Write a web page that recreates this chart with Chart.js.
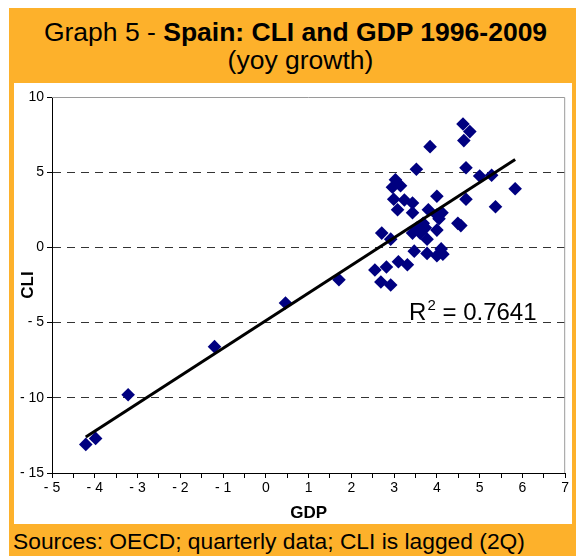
<!DOCTYPE html>
<html>
<head>
<meta charset="utf-8">
<script src="https://cdn.jsdelivr.net/npm/chart.js@4.4.1/dist/chart.umd.min.js"></script>
<style>
  html, body { margin: 0; padding: 0; background: #fff; }
  #frame { position: absolute; left: 0; top: 0; width: 576px; height: 556px; overflow: hidden; background: #fff; font-family: "Liberation Sans", Arial, sans-serif; }
  #orange { position: absolute; left: 9px; top: 8px; width: 567px; height: 548px; background: #FDB12B; }
  #title1 { position: absolute; left: 12px; width: 567px; top: 17px; text-align: center; font-size: 26.5px; line-height: 30px; color: #000; white-space: nowrap; }
  #title2 { position: absolute; left: 17px; width: 567px; top: 45px; text-align: center; font-size: 26.5px; line-height: 30px; color: #000; white-space: nowrap; }
  #white { position: absolute; left: 14px; top: 83px; width: 558px; height: 441px; background: #fff; }
  #footer { position: absolute; left: 13px; top: 527px; font-size: 22.8px; line-height: 28px; color: #000; white-space: nowrap; }
  #cwrap { position: absolute; left: 14px; top: 83px; width: 558px; height: 441px; }
</style>
</head>
<body>
<div id="frame">
  <div id="orange"></div>
  <div id="title1">Graph 5 - <b>Spain: CLI and GDP 1996-2009</b></div>
  <div id="title2">(yoy growth)</div>
  <div id="white"></div>
  <div id="cwrap"><canvas id="c" width="558" height="441"></canvas></div>
  <div id="footer">Sources: OECD; quarterly data; CLI is lagged (2Q)</div>
</div>
<script>
// GDP growth (x) and lagged CLI growth (y)
const gdp = [-4.21, -3.98, -3.22, -1.20, 0.46, 1.71, 2.55, 2.82, 3.10, 3.31,
             2.69, 2.92, 2.71, 2.92, 3.47, 3.77, 4.00, 4.10, 4.14, 3.43,
             3.61, 3.77, 4.00, 3.54, 3.73, 3.68, 4.49, 4.56, 4.05, 4.00,
             4.12, 3.80, 3.43, 3.08, 3.43, 3.24, 2.99, 4.00, 4.68, 5.37,
             5.83, 5.00, 5.28, 4.68, 3.52, 3.84, 4.63, 4.77, 4.61, 3.03,
             3.15, 2.96];
const cli = [-13.1, -12.7, -9.8, -6.6, -3.7, -2.15, -1.5, -1.3, -0.95, -1.15,
             -2.3, -2.5, 0.95, 0.55, -0.25, -0.4, -0.55, -0.1, -0.45, 0.95,
             0.95, 0.55, 1.15, 1.3, 1.3, 1.6, 1.6, 1.45, 1.9, 2.15,
             2.3, 2.5, 2.3, 2.5, 2.95, 3.15, 3.2, 3.4, 3.2, 2.7,
             3.9, 4.75, 4.8, 5.3, 5.2, 6.7, 7.1, 7.7, 8.2, 4.5,
             4.1, 4.0];
// Linear trend endpoints
const trendX = [-4.21, 5.83];
const trendY = [-12.6, 5.85];
const rSquaredLabel = "0.7641";
const xTicks = [-5, -4, -3, -2, -1, 0, 1, 2, 3, 4, 5, 6, 7];
const yTicks = [-15, -10, -5, 0, 5, 10];

const points = gdp.map((g, i) => ({x: g, y: cli[i]}));
const trend = trendX.map((t, i) => ({x: t, y: trendY[i]}));

const FONT = "'Liberation Sans', Arial, sans-serif";
const fmt = v => v < 0 ? '- ' + Math.abs(v) : String(v);

const extras = {
  id: 'extras',
  beforeDatasetsDraw(chart) {
    const {ctx, chartArea: a} = chart;
    ctx.save();
    ctx.strokeStyle = '#9a9a9a';
    ctx.lineWidth = 1;
    ctx.beginPath();
    ctx.moveTo(a.left, a.top + 0.5);
    ctx.lineTo(a.right - 0.5, a.top + 0.5);
    ctx.lineTo(a.right - 0.5, a.bottom);
    ctx.stroke();
    ctx.restore();
  },
  afterDatasetsDraw(chart) {
    const {ctx, scales: {x, y}} = chart;
    const px = x.getPixelForValue(3.35);
    const py = y.getPixelForValue(-4.85);
    ctx.save();
    ctx.fillStyle = '#000';
    ctx.textBaseline = 'alphabetic';
    ctx.textAlign = 'left';
    ctx.font = '24px ' + FONT;
    ctx.fillText('R', px, py);
    const w = ctx.measureText('R').width;
    ctx.font = '15px ' + FONT;
    ctx.fillText('2', px + w + 1, py - 10);
    const w2 = ctx.measureText('2').width;
    ctx.font = '24px ' + FONT;
    ctx.fillText(' = ' + rSquaredLabel, px + w + w2 + 1, py);
    ctx.restore();
  }
};

new Chart(document.getElementById('c'), {
  data: {
    datasets: [
      {
        type: 'line',
        data: trend,
        borderColor: '#000',
        borderWidth: 3,
        pointRadius: 0,
        fill: false,
        order: 0
      },
      {
        type: 'scatter',
        data: points,
        pointStyle: 'rectRot',
        pointRadius: 6.8,
        pointHoverRadius: 6.8,
        backgroundColor: '#000080',
        borderColor: '#000080',
        borderWidth: 0,
        order: 1
      }
    ]
  },
  options: {
    responsive: false,
    animation: false,
    events: [],
    layout: { padding: { top: 14, right: 1, left: 0, bottom: 0 } },
    plugins: { legend: { display: false }, tooltip: { enabled: false }, title: { display: false } },
    scales: {
      x: {
        type: 'linear',
        min: -5, max: 7,
        afterFit: s => { s.height = 51; },
        ticks: {
          stepSize: 0.5,
          autoSkip: false,
          maxRotation: 0,
          padding: 2,
          color: '#000',
          font: { family: FONT, size: 14 },
          callback: v => xTicks.includes(v) ? fmt(v) : ''
        },
        grid: { drawOnChartArea: false, tickLength: 5, tickColor: '#000', tickWidth: 1 },
        border: { color: '#000', width: 1 },
        title: { display: true, text: 'GDP', color: '#000', font: { family: FONT, size: 17, weight: 'bold' }, padding: { top: 0, bottom: 0 } }
      },
      y: {
        type: 'linear',
        min: -15, max: 10,
        afterFit: s => { s.width = 38; },
        afterBuildTicks: s => { s.ticks = yTicks.map(v => ({value: v})); },
        ticks: {
          stepSize: 5,
          padding: 3,
          color: '#000',
          font: { family: FONT, size: 14 },
          callback: v => fmt(v)
        },
        grid: {
          tickLength: 5,
          tickColor: '#000',
          lineWidth: 1,
          color: c => (c.tick && (c.tick.value === 10 || c.tick.value === -15)) ? 'rgba(0,0,0,0)' : '#333'
        },
        border: { color: '#000', width: 1, dash: [8, 6] },
        title: { display: true, text: 'CLI', color: '#000', font: { family: FONT, size: 17, weight: 'bold' }, padding: { top: 4, bottom: 2 } }
      }
    }
  },
  plugins: [extras]
});
</script>
</body>
</html>
